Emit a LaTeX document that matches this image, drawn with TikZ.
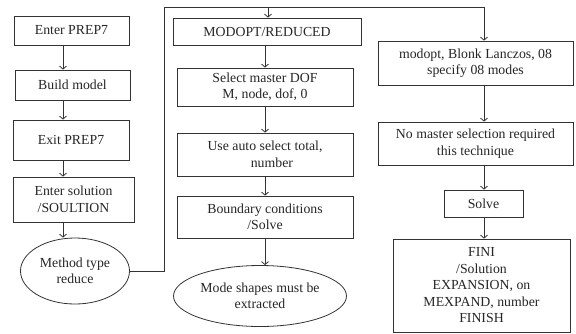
\documentclass[tikz,border=0pt]{standalone}
\usepackage{fontspec}
\setmainfont{Liberation Serif}
\usetikzlibrary{shapes.geometric,arrows.meta}
\begin{document}
\begin{tikzpicture}[x=1pt,y=-1pt,
	every node/.style={font=\fontsize{13.8}{16.5}\selectfont,align=center,text=black!85,inner sep=0pt},
	box/.style={draw=black!80,line width=0.8pt,rectangle},
	oval/.style={draw=black!80,line width=0.8pt,ellipse},
	arr/.style={draw=black!80,line width=0.8pt,-{Straight Barb[length=3pt,width=7pt]}},
	ln/.style={draw=black!80,line width=0.8pt}]
	\useasboundingbox[fill=white] (0,0) rectangle (576,333);
	% left column
	\node[box,minimum width=115,minimum height=29] (prep) at (71.5,30.5) {Enter PREP7};
	\node[box,minimum width=115,minimum height=30] (build) at (72.5,85) {Build model};
	\node[box,minimum width=116,minimum height=40] (exit) at (71,140) {Exit PREP7};
	\node[box,minimum width=121,minimum height=45] (sol) at (73.5,199.5) {Enter solution\\ /SOULTION};
	\node[oval,minimum width=109,minimum height=66] (method) at (75,271) {Method type\\reduce};
	% middle column
	\node[box,minimum width=188,minimum height=27] (modopt) at (267,31.5) {MODOPT/REDUCED};
	\node[box,minimum width=176,minimum height=38] (master) at (265,87) {Select master DOF\\M, node, dof, 0};
	\node[box,minimum width=176,minimum height=43] (auto) at (265,154.5) {Use auto select total,\\ \quad number};
	\node[box,minimum width=176,minimum height=42] (bc) at (265,217) {Boundary conditions\\/Solve};
	\node[oval,minimum width=173,minimum height=61] (shapes) at (260,296) {Mode shapes must be\\extracted};
	% right column
	\node[box,minimum width=195,minimum height=44] (lanczos) at (475.5,63) {modopt, Blonk Lanczos, 08\\specify 08 modes};
	\node[box,minimum width=195,minimum height=43] (nomaster) at (475.5,143.5) {No master selection required\\this technique};
	\node[box,minimum width=79,minimum height=27] (solve) at (483.5,203.5) {Solve};
	\node[box,minimum width=177,minimum height=93] (fini) at (481.5,285.5) {FINI\\/Solution\\EXPANSION, on\\MEXPAND, number\\FINISH};
	% column lines
	\coordinate (colA) at (63,0);
	\coordinate (colB) at (265,0);
	\coordinate (colC) at (484,0);
	\coordinate (turn) at (164,271);
	\coordinate (top) at (164,7);
	\coordinate (topB) at (268,7);
	\coordinate (topC) at (484,7);
	\draw[arr] (prep.south -| colA) -- (build.north -| colA);
	\draw[arr] (build.south -| colA) -- (exit.north -| colA);
	\draw[arr] (exit.south -| colA) -- (sol.north -| colA);
	\draw[arr] (sol.south -| colA) -- (method.north -| colA);
	\draw[ln] (method.east) -- (turn) -- (top) -- (topC);
	\draw[arr] (topB) -- (modopt.north -| topB);
	\draw[arr] (modopt.south -| colB) -- (master.north -| colB);
	\draw[arr] (master.south -| colB) -- (auto.north -| colB);
	\draw[arr] (auto.south -| colB) -- (bc.north -| colB);
	\draw[arr] (bc.south -| colB) -- (shapes.north -| colB);
	\draw[arr] (topC) -- (lanczos.north -| topC);
	\draw[arr] (lanczos.south -| colC) -- (nomaster.north -| colC);
	\draw[arr] (nomaster.south -| colC) -- (solve.north -| colC);
	\draw[arr] (solve.south -| colC) -- (fini.north -| colC);
\end{tikzpicture}
\end{document}
